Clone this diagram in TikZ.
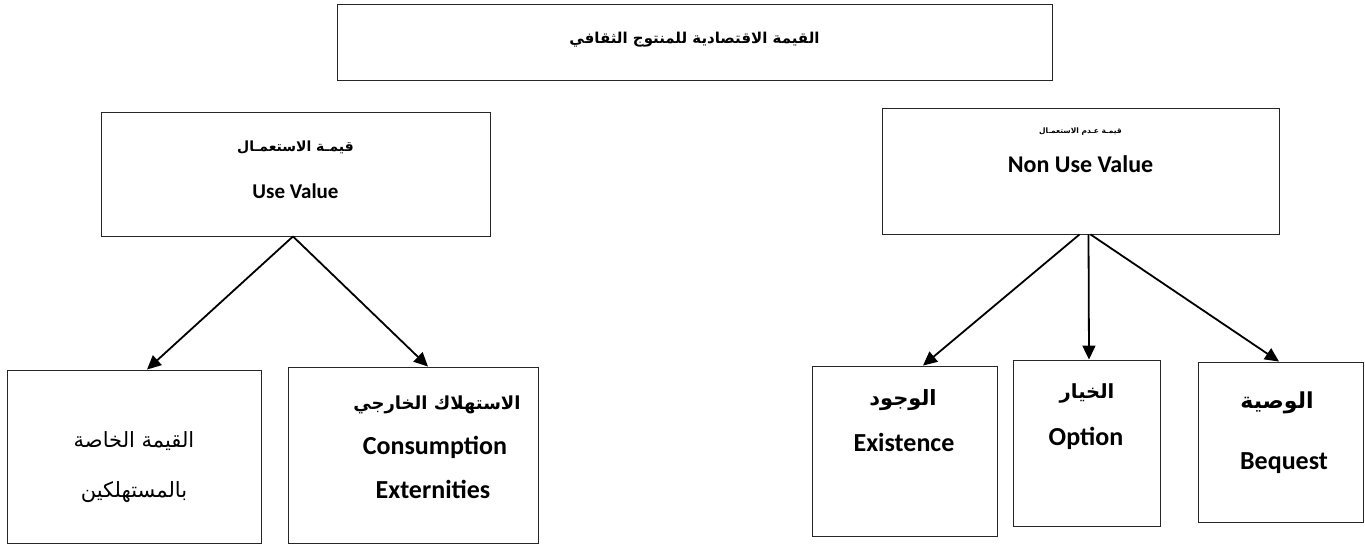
\documentclass[tikz,border=0pt]{standalone}
\usepackage{fontspec}
\setmainfont{Carlito}
\newfontfamily\arabicfont[Script=Arabic]{DejaVu Sans}
\TeXXeTstate=1
\usetikzlibrary{arrows.meta}
\begin{document}
\begin{tikzpicture}[x=1pt,y=-1pt,
  box/.style={draw=black!85,line width=0.9pt,inner sep=0pt,anchor=center},
  arr/.style={line width=1.8pt,-{Triangle[length=14pt,width=13pt]}},
  en/.style={font=\fontsize{21}{24}\selectfont\bfseries,inner sep=0pt,anchor=center},
  enl/.style={font=\fontsize{26}{30}\selectfont\bfseries,inner sep=0pt,anchor=center},
  arb/.style={font=\arabicfont\fontsize{15}{18}\selectfont\bfseries,inner sep=0pt,anchor=center},
  arn/.style={font=\arabicfont\fontsize{21}{24}\selectfont,inner sep=0pt,anchor=center}]
\useasboundingbox (0,0) rectangle (1365,545);
% boxes
\node[box,minimum width=715pt,minimum height=76pt] (top) at (694.5,42) {};
\node[box,minimum width=389pt,minimum height=124pt] (uv) at (295.5,174) {};
\node[box,minimum width=397pt,minimum height=126pt] (nu) at (1080.5,171) {};
\node[box,minimum width=254pt,minimum height=173pt] (b1) at (134,456.5) {};
\node[box,minimum width=250pt,minimum height=176pt] (b2) at (413,455) {};
\node[box,minimum width=185pt,minimum height=170pt] (ex) at (904.5,451) {};
\node[box,minimum width=147pt,minimum height=166pt] (op) at (1086.5,443) {};
\node[box,minimum width=165pt,minimum height=160pt] (bq) at (1280.5,442) {};
% texts
\node[arb] (t0) at (694.5,40) {\beginR القيمة الاقتصادية للمنتوج الثقافي\endR};
\node[arb,font=\arabicfont\fontsize{14}{17}\selectfont\bfseries] (t1) at (295.5,147) {\beginR قيمـة الاستعمـال\endR};
\node[en] (t2) at (295.5,191) {Use Value};
\node[arb,font=\arabicfont\fontsize{7.5}{9}\selectfont\bfseries] (t3) at (1080.5,132) {\beginR قيمـة عـدم الاستعمـال\endR};
\node[en,font=\fontsize{24}{28}\selectfont\bfseries] (t4) at (1080.5,164) {Non Use Value};
\node[arn] (t5) at (134,441) {\beginR القيمة الخاصة\endR};
\node[arn] (t6) at (134,492) {\beginR بالمستهلكين\endR};
\node[arb,font=\arabicfont\fontsize{18}{21}\selectfont\bfseries] (t7) at (437,405) {\beginR الاستهلاك الخارجي\endR};
\node[enl] (t8) at (435,447) {Consumption};
\node[enl] (t9) at (433,489) {Externities};
\node[arb,font=\arabicfont\fontsize{21}{24}\selectfont\bfseries] (t10) at (903,400) {\beginR الوجود\endR};
\node[enl] (t11) at (904,442) {Existence};
\node[arb,font=\arabicfont\fontsize{19.5}{23}\selectfont\bfseries] (t12) at (1087,393) {\beginR الخيار\endR};
\node[enl] (t13) at (1086,438) {Option};
\node[arb,font=\arabicfont\fontsize{22}{26}\selectfont\bfseries] (t14) at (1277,403) {\beginR الوصية\endR};
\node[enl] (t15) at (1284,463) {Bequest};
% connectors
\draw[arr] ([xshift=-2.5pt]uv.south) -- ([xshift=13pt]b1.north);
\draw[arr] ([xshift=-2.5pt]uv.south) -- ([xshift=15pt]b2.north);
\draw[arr] ([xshift=-1pt]nu.south) -- ([xshift=18.5pt]ex.north);
\draw[arr] ([xshift=8pt]nu.south) -- ([xshift=2.5pt]op.north);
\draw[arr] ([xshift=10pt]nu.south) -- ([xshift=-1.5pt]bq.north);
\end{tikzpicture}
\end{document}
